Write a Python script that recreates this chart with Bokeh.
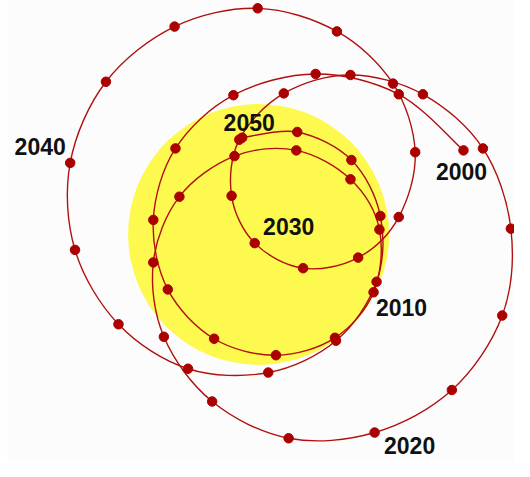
from bokeh.plotting import figure
from bokeh.models import Range1d, ColumnDataSource, BoxAnnotation
from bokeh.core.properties import value
from bokeh.embed import file_html
from bokeh.resources import INLINE

# Sun's position relative to the solar-system barycentre, yearly, in solar radii
years = list(range(2000, 2051))
xs = [1.570, 1.074, 0.437, -0.193, -0.637, -0.807, -0.696, -0.341, 0.133, 0.585,
      0.881, 0.926, 0.704, 0.289, -0.185, -0.607, -0.807, -0.726, -0.356, 0.230,
      0.889, 1.481, 1.867, 1.933, 1.719, 1.259, 0.704, 0.193, -0.148, -0.207,
      -0.030, 0.341, 0.763, 1.074, 1.200, 1.030, 0.600, -0.007, -0.644, -1.170,
      -1.444, -1.407, -1.074, -0.541, 0.074, 0.593, 0.904, 0.933, 0.711, 0.296,
      -0.126]
ys = [0.644, 1.074, 1.230, 1.067, 0.659, 0.111, -0.422, -0.800, -0.926, -0.793,
      -0.444, 0.037, 0.422, 0.644, 0.600, 0.289, -0.215, -0.785, -1.281, -1.563,
      -1.519, -1.193, -0.622, 0.044, 0.659, 1.074, 1.222, 1.081, 0.726, 0.296,
      -0.067, -0.259, -0.178, 0.133, 0.630, 1.156, 1.556, 1.733, 1.593, 1.170,
      0.548, -0.119, -0.689, -1.030, -1.059, -0.815, -0.363, 0.141, 0.570, 0.785,
      0.741]
label_years = [2000, 2010, 2020, 2030, 2040, 2050]
sun_radius = 1.0

# label offsets (screen px) relative to their year's point
lab_dx = [-2, 28, 35, 34, -30, 7]
lab_dy = [21, 15, 13, -17, -16, -15]

p = figure(width=514, height=461, output_backend="svg", toolbar_location=None,
           x_range=Range1d(-1.978, 1.961), y_range=Range1d(-1.741, 1.793),
           min_border=0, background_fill_color="#fcfcfc", border_fill_color="white",
           outline_line_color=None)
p.axis.visible = False
p.grid.visible = False

p.add_layout(BoxAnnotation(right=-1.921, fill_color="white", fill_alpha=1.0,
                           line_color=None, level="underlay"))

# the Sun
p.circle(x=[0], y=[0], radius=sun_radius, fill_color="#fdf94e", line_color=None)

# smooth path through the yearly positions (Catmull-Rom as cubic Beziers)
n = len(xs)
x0, y0, x1, y1, cx0, cy0, cx1, cy1 = [], [], [], [], [], [], [], []
for i in range(n - 1):
    ip = max(i - 1, 0)
    inn = min(i + 2, n - 1)
    x0.append(xs[i]); y0.append(ys[i])
    x1.append(xs[i + 1]); y1.append(ys[i + 1])
    cx0.append(xs[i] + (xs[i + 1] - xs[ip]) / 6.0)
    cy0.append(ys[i] + (ys[i + 1] - ys[ip]) / 6.0)
    cx1.append(xs[i + 1] - (xs[inn] - xs[i]) / 6.0)
    cy1.append(ys[i + 1] - (ys[inn] - ys[i]) / 6.0)
p.bezier(x0=x0, y0=y0, x1=x1, y1=y1, cx0=cx0, cy0=cy0, cx1=cx1, cy1=cy1,
         line_color="#b01010", line_width=1.4)

p.scatter(x=xs, y=ys, size=9.5, fill_color="#aa0000", line_color="#aa0000")

lx = [xs[years.index(y)] for y in label_years]
ly = [ys[years.index(y)] for y in label_years]
src = ColumnDataSource(dict(x=lx, y=ly, t=[str(y) for y in label_years],
                            dx=lab_dx, dy=lab_dy))
p.text(x="x", y="y", text="t", x_offset="dx", y_offset="dy", source=src,
       text_font=value("Liberation Sans"), text_font_style="bold",
       text_font_size="23px", text_color="#111111",
       text_align="center", text_baseline="middle")

open("out.html", "w").write(file_html(p, INLINE))
